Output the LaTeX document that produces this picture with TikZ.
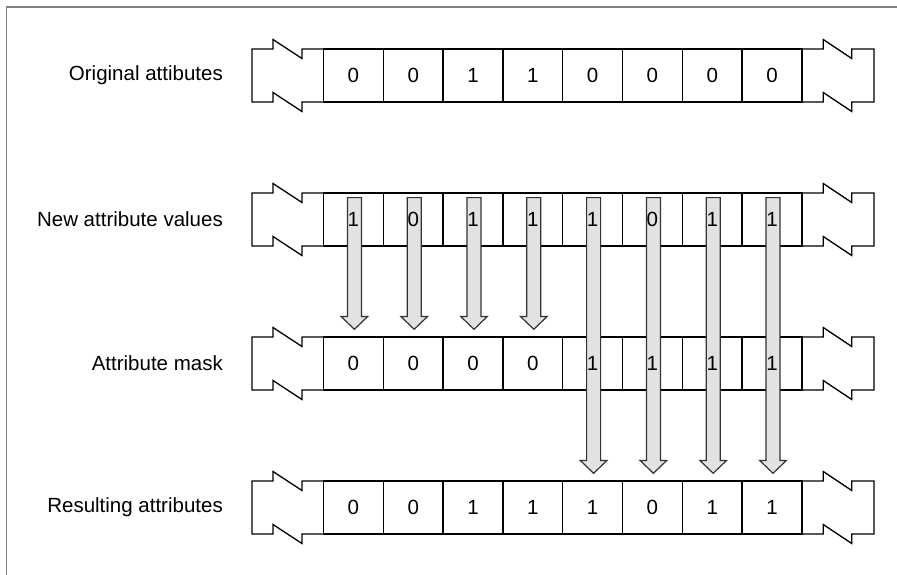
\documentclass[tikz,border=0pt]{standalone}
\usepackage{fontspec}
\setmainfont{Liberation Sans}
\usetikzlibrary{calc}
\definecolor{arrowfill}{HTML}{E2E2E2}
\definecolor{arrowline}{HTML}{333333}
\definecolor{framegray}{HTML}{808080}
\tikzset{
  cellbox/.style={draw=black, line width=1.3pt, minimum width=59.8pt, minimum height=53pt, inner sep=0pt, outer sep=0pt},
  digit/.style={font=\fontsize{20.5}{24}\selectfont, inner sep=0pt},
  rowlabel/.style={font=\fontsize{20.5}{24}\selectfont, anchor=east, inner sep=0pt},
  breakline/.style={draw=black, line width=1.3pt, line join=miter},
  blockarrow/.style={draw=arrowline, fill=arrowfill, line width=1.2pt, line join=miter},
  frameline/.style={draw=framegray, line width=1.4pt}
}
\newcommand{\mybreaks}[2]{% #1 = top y, #2 = row name
  \path[breakline] (324,#1) -- (302,#1) -- (302,#1+9.5) -- (273,#1-9.5) -- (273,#1) -- (252,#1)
     -- (252,#1+53) -- (273,#1+53) -- (273,#1+43.5) -- (302,#1+62.5) -- (302,#1+53) -- (324,#1+53);
  \path[breakline] (802,#1) -- (823.3,#1) -- (823.3,#1-9.5) -- (851.7,#1+9.5) -- (851.7,#1) -- (874,#1)
     -- (874,#1+53) -- (851.7,#1+53) -- (851.7,#1+62.5) -- (823.3,#1+43.5) -- (823.3,#1+53) -- (802,#1+53);
  \foreach \i in {1,...,8}{
    \node[cellbox] (#2-\i) at (323.5+59.8*\i-29.9, #1+26.5) {};
  }
}
\newcommand{\myarrow}[2]{% #1 = start coordinate, #2 = tip coordinate
  \path[blockarrow] let \p1=(#1), \p2=(#2) in
    (\x1-7pt,\y1) -- (\x1+7pt,\y1) -- (\x1+7pt,\y2+12.8pt) -- (\x1+13.3pt,\y2+12.8pt)
    -- (\x1,\y2) -- (\x1-13.3pt,\y2+12.8pt) -- (\x1-7pt,\y2+12.8pt) -- cycle;
}
\begin{document}
\begin{tikzpicture}[x=1pt,y=-1pt]
\useasboundingbox (0,0) rectangle (897,575);
\path[frameline] (6.7,575) -- (6.7,7) -- (897,7);

% rows
\mybreaks{49}{ra}
\mybreaks{193}{rb}
\mybreaks{337}{rc}
\mybreaks{481}{rd}

% labels
\node[rowlabel] (la) at (223,75.5) {Original attibutes};
\node[rowlabel] (lb) at (223,219.5) {New attribute values};
\node[rowlabel] (lc) at (223,363.5) {Attribute mask};
\node[rowlabel] (ld) at (223,507.5) {Resulting attributes};

% arrows
\foreach \i in {1,...,4}{
  \coordinate (s\i) at ($(rb-\i.north)+(1,4.6)$);
  \coordinate (t\i) at ($(rc-\i.north)+(1,-7.7)$);
  \myarrow{s\i}{t\i}
}
\foreach \i in {5,...,8}{
  \coordinate (s\i) at ($(rb-\i.north)+(1,4.6)$);
  \coordinate (t\i) at ($(rd-\i.north)+(1,-7.7)$);
  \myarrow{s\i}{t\i}
}

% digits
\foreach \v [count=\i] in {0,0,1,1,0,0,0,0}{ \node[digit] (da-\i) at (ra-\i) {\v}; }
\foreach \v [count=\i] in {1,0,1,1,1,0,1,1}{ \node[digit] (db-\i) at (rb-\i) {\v}; }
\foreach \v [count=\i] in {0,0,0,0,1,1,1,1}{ \node[digit] (dc-\i) at (rc-\i) {\v}; }
\foreach \v [count=\i] in {0,0,1,1,1,0,1,1}{ \node[digit] (dd-\i) at (rd-\i) {\v}; }
\end{tikzpicture}
\end{document}
